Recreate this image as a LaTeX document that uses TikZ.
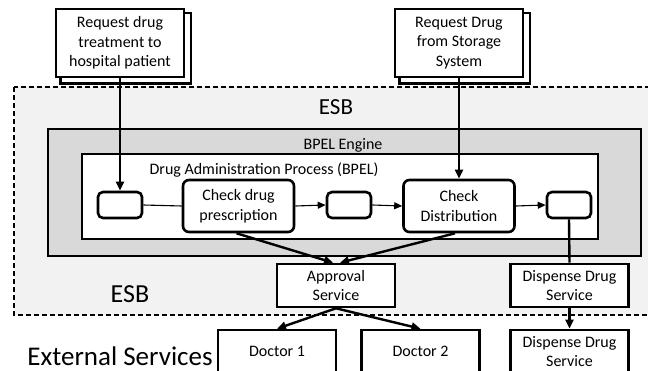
\documentclass[tikz,border=0pt]{standalone}
\usepackage{fontspec}
\setmainfont{Carlito}
\usetikzlibrary{arrows.meta,backgrounds}

\definecolor{esbgray}{HTML}{F2F2F2}
\definecolor{enginegray}{HTML}{D9D9D9}

\tikzset{
  boxtext/.style={font=\fontsize{16}{19.5}\selectfont, align=center, inner sep=0pt},
  reqbox/.style={boxtext, draw, line width=2.6pt, fill=white,
    minimum width=128pt, minimum height=68pt},
  reqstack/.style={draw, line width=2.6pt, fill=white},
  stepbox/.style={boxtext, draw, line width=2.6pt, fill=white, rounded corners=6pt,
    minimum width=111pt, minimum height=52pt},
  taskbox/.style={draw, line width=2.6pt, fill=white, rounded corners=5pt,
    minimum width=44pt, minimum height=26pt, inner sep=0pt},
  svcbox/.style={boxtext, draw, line width=2.6pt, fill=white,
    minimum width=118pt, minimum height=43pt},
  flow/.style={line width=1.1pt},
  flowarrow/.style={line width=1.1pt, -{Triangle[length=8pt,width=7pt]}},
  callarrow/.style={line width=2.4pt, -{Triangle[length=9pt,width=8pt]}},
  callline/.style={line width=2.4pt},
  zonelabel/.style={inner sep=0pt, anchor=base},
}

\begin{document}
\begin{tikzpicture}[x=1pt,y=-1pt]
  \useasboundingbox (0,0) rectangle (648,371);
  \begin{scope}[on background layer]
    \fill[white] (0,0) rectangle (648,371);
  \end{scope}
  \clip (0,0) rectangle (648,371);

  % enterprise service bus area
  \draw[fill=esbgray, dash pattern=on 5pt off 3pt, line width=1.2pt]
    (14,87) rectangle (660,315);
  % BPEL engine and the process it runs
  \draw[fill=enginegray, line width=2.8pt] (48,129) rectangle (641,256);
  \draw[fill=white, line width=2.8pt] (82,154) rectangle (598,239);

  \node[zonelabel, font=\fontsize{23}{27}\selectfont] (esbtop) at (336,115) {ESB};
  \node[zonelabel, font=\fontsize{16}{19}\selectfont] (engine) at (343,150) {BPEL Engine};
  \node[zonelabel, font=\fontsize{16}{19}\selectfont] (proc) at (264,174.5) {Drug Administration Process (BPEL)};
  \node[zonelabel, font=\fontsize{26}{30}\selectfont] (esbbot) at (130,303) {ESB};
  \node[zonelabel, font=\fontsize{27}{32}\selectfont] (ext) at (120,365) {External Services};

  % incoming requests, each drawn as a stack of two sheets
  \node[reqbox] (req1) at (120,43) {Request drug\\treatment to\\hospital patient};
  \node[reqbox] (req2) at (459,43) {Request Drug\\from Storage\\System};
  \begin{scope}[on background layer]
    \foreach \r in {req1,req2}
      \draw[reqstack] ([shift={(5.5,5.5)}]\r.south west) rectangle ([shift={(5.5,5.5)}]\r.north east);
  \end{scope}

  % process steps
  \node[taskbox] (t1) at (120,205) {};
  \node[stepbox] (chk1) at (238.5,206) {Check drug\\prescription};
  \node[taskbox] (t2) at (349,205) {};
  \node[stepbox] (chk2) at (459,206) {Check\\Distribution};
  \node[taskbox] (t3) at (569,205) {};

  % services
  \node[svcbox] (appr) at (336,285.5) {Approval\\Service};
  \node[svcbox] (disp) at (569.5,285.5) {Dispense Drug\\Service};
  \node[svcbox] (doc1) at (277,351.5) {Doctor 1};
  \node[svcbox] (doc2) at (420.5,351.5) {Doctor 2};
  \node[svcbox] (dispx) at (569.5,351.5) {Dispense Drug\\Service};

  % connectors
  \draw[callarrow] (req1.south) -- (t1.north);
  \draw[callarrow] (req2.south) -- (chk2.north);
  \draw[flow] (t1.east) -- (chk1.west);
  \draw[flowarrow] (chk1.east) -- (t2.west);
  \draw[flowarrow] (t2.east) -- (chk2.west);
  \draw[flowarrow] (chk2.east) -- (t3.west);
  \draw[callarrow] ([xshift=-2pt]chk1.south) -- ([xshift=-3pt]appr.north);
  \draw[callarrow] ([xshift=-4pt]chk2.south) -- ([xshift=4pt]appr.north);
  \draw[callline] (t3.south) -- (disp.north);
  \draw[callarrow] (appr.south) -- (doc1.north);
  \draw[callarrow] (appr.south) -- (doc2.north);
  \draw[callarrow] (disp.south) -- (dispx.north);
\end{tikzpicture}
\end{document}
